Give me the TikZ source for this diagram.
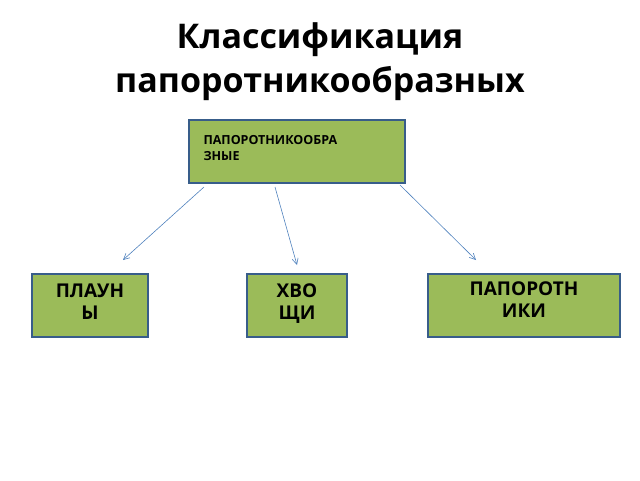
\documentclass[tikz,border=0pt]{standalone}
\usepackage{fontspec}
\setmainfont{Open Sans}
\usetikzlibrary{arrows.meta}
\definecolor{boxg}{HTML}{9BBB59}
\definecolor{boxb}{HTML}{385D8A}
\definecolor{arr}{HTML}{4F81BD}
\begin{document}
\begin{tikzpicture}[x=1pt,y=-1pt,
  box/.style={draw=boxb,line width=1.5pt,fill=boxg,inner sep=0pt},
  lbl/.style={font=\bfseries\fontsize{19}{22}\selectfont,align=center},
  con/.style={draw=arr,line width=0.6pt,-{Straight Barb[length=6pt,width=6pt]}}]
\useasboundingbox (0,0) rectangle (640,480);
\node[font=\bfseries\fontsize{34}{44}\selectfont,align=center] (title) at (320,62) {Классификация\\папоротникообразных};
\draw[box] (189,120) rectangle (405,183);
\node[font=\bfseries\fontsize{12.5}{16}\selectfont,align=left,anchor=north west] (top) at (200,132) {ПАПОРОТНИКООБРА\\ЗНЫЕ};
\draw[box] (32,274) rectangle (148,337);
\node[lbl,anchor=north] (pl) at (90,280) {ПЛАУН\\Ы};
\draw[box] (247,274) rectangle (347,337);
\node[lbl,anchor=north] (hv) at (297,280) {ХВО\\ЩИ};
\draw[box] (428,274) rectangle (620,337);
\node[lbl,anchor=north] (pa) at (524,278) {ПАПОРОТН\\ИКИ};
\coordinate (s1) at (204,187); \coordinate (e1) at (123,260);
\coordinate (s2) at (275,187); \coordinate (e2) at (297,265);
\coordinate (s3) at (400,185); \coordinate (e3) at (476,260);
\draw[con] (s1) -- (e1);
\draw[con] (s2) -- (e2);
\draw[con] (s3) -- (e3);
\end{tikzpicture}
\end{document}
